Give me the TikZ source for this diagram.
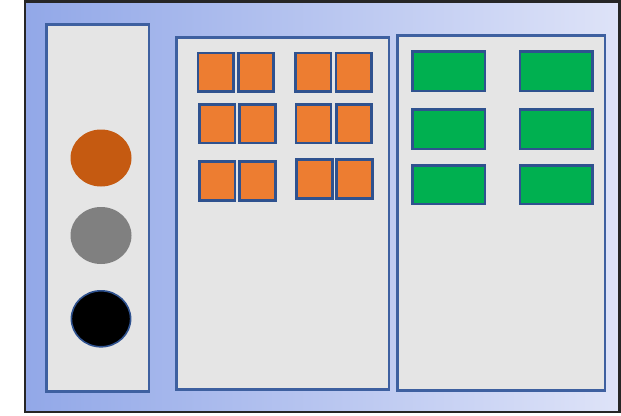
\documentclass[tikz,border=0pt]{standalone}
\definecolor{bgL}{RGB}{146,168,232}
\definecolor{bgR}{RGB}{222,227,248}
\definecolor{panelfill}{RGB}{229,229,229}
\definecolor{panelline}{RGB}{62,96,160}
\definecolor{sqfill}{RGB}{237,125,49}
\definecolor{sqline}{RGB}{47,82,143}
\definecolor{grfill}{RGB}{0,176,80}
\definecolor{orcirc}{RGB}{197,90,17}
\definecolor{grcirc}{RGB}{128,128,128}
\tikzset{
  panel/.style={draw=panelline, fill=panelfill, line width=2.2pt},
  sq/.style={draw=sqline, fill=sqfill, line width=2.6pt},
  gr/.style={draw=sqline, fill=grfill, line width=2.6pt},
}
\begin{document}
\begin{tikzpicture}[x=1pt,y=-1pt]
\useasboundingbox (0,0) rectangle (621,415);
% outer frame
\shade[left color=bgL, right color=bgR] (25,1.5) rectangle (619.5,412);
\draw[line width=2.4pt, black!85] (25,1.5) rectangle (619.5,412);
% panels
\draw[panel] (46.5,24.5) rectangle (149,391.5);
\draw[panel] (176.5,37.5) rectangle (389,389.5);
\draw[panel] (397.5,35.5) rectangle (605,390.5);
% circles
\fill[orcirc] (101,158) ellipse [x radius=30.5, y radius=28.5];
\fill[grcirc] (101,235.5) ellipse [x radius=30.5, y radius=28.5];
\draw[fill=black, draw=sqline, line width=1.6pt] (101,318.8) ellipse [x radius=29.6, y radius=28];
% orange squares
\draw[sq] (198,53) rectangle (233.3,91.5);
\draw[sq] (238.5,53) rectangle (273.3,91.5);
\draw[sq] (295.3,53) rectangle (331,91.5);
\draw[sq] (336,53) rectangle (371.5,91.5);
\draw[sq] (199.5,104.3) rectangle (235,143);
\draw[sq] (239.5,104.3) rectangle (275.5,143);
\draw[sq] (296,104.3) rectangle (331,143);
\draw[sq] (336.3,104.3) rectangle (371.5,143);
\draw[sq] (199.3,161.3) rectangle (235,200.5);
\draw[sq] (239.5,161.3) rectangle (275.5,200.5);
\draw[sq] (296.5,159.5) rectangle (332.3,198.3);
\draw[sq] (336.3,159.5) rectangle (372.5,198.3);
% green rectangles
\draw[gr] (412.5,51.3) rectangle (485,91);
\draw[gr] (520,51.3) rectangle (592.5,91);
\draw[gr] (412.5,109.5) rectangle (485,149);
\draw[gr] (520,109.5) rectangle (592.5,149);
\draw[gr] (412.5,165.3) rectangle (485,204);
\draw[gr] (520,165.3) rectangle (592.5,204);
\end{tikzpicture}
\end{document}
